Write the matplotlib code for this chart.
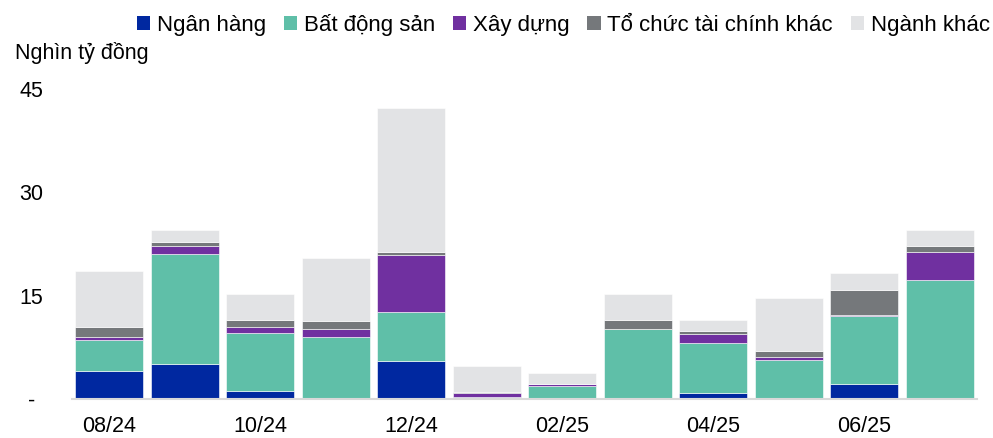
import matplotlib
matplotlib.use("Agg")
import matplotlib.pyplot as plt
from matplotlib.patches import Patch
import numpy as np

months = ["08/24", "09/24", "10/24", "11/24", "12/24", "01/25",
          "02/25", "03/25", "04/25", "05/25", "06/25", "07/25"]
ngan_hang = [4.0, 5.1, 1.1, 0.0, 5.45, 0.0, 0.0, 0.0, 0.9, 0.0, 2.25, 0.0]
bat_dong_san = [4.6, 16.0, 8.55, 9.05, 7.25, 0.25, 1.95, 10.2, 7.2, 5.7, 9.75, 17.3]
xay_dung = [0.45, 1.05, 0.8, 1.05, 8.15, 0.6, 0.25, 0.0, 1.3, 0.4, 0.15, 4.0]
tctc_khac = [1.45, 0.65, 1.05, 1.2, 0.55, 0.1, 0.0, 1.3, 0.45, 0.9, 3.7, 0.95]
nganh_khac = [8.1, 1.7, 3.8, 9.2, 20.9, 3.8, 1.6, 3.7, 1.55, 7.7, 2.4, 2.35]

series_names = ["Ngân hàng", "Bất động sản", "Xây dựng", "Tổ chức tài chính khác", "Ngành khác"]
colors = ["#0028a0", "#5fbfa8", "#7030a0", "#75787b", "#e2e3e5"]
yticks = [0, 15, 30, 45]
ytick_labels = ["-", "15", "30", "45"]

plt.rcParams['font.family'] = ['Liberation Sans', 'DejaVu Sans']

fig = plt.figure(figsize=(9.93, 4.38), dpi=100)
ax = fig.add_axes([72/993, 1-399/438, (977-72)/993, (399-89)/438])

x = np.arange(len(months))
bottom = np.zeros(len(months))
all_series = [ngan_hang, bat_dong_san, xay_dung, tctc_khac, nganh_khac]
for vals, c in zip(all_series, colors):
    vals = np.array(vals)
    ax.bar(x, vals, width=0.9, bottom=bottom, color=c, edgecolor="white",
           linewidth=0.4, zorder=2)
    bottom += vals

ax.set_xlim(-0.49, 11.49)
ax.set_ylim(0, 45)
for s in ["top", "right", "left"]:
    ax.spines[s].set_visible(False)
ax.spines["bottom"].set_color("#d9d9d9")
ax.spines["bottom"].set_linewidth(1.5)
ax.spines["bottom"].set_zorder(3)

ax.set_xticks(x[::2])
ax.set_xticklabels(months[::2], fontsize=15.5)
ax.tick_params(axis="x", length=0, pad=12)
ax.set_yticks(yticks)
ax.set_yticklabels(ytick_labels, fontsize=15.5)
ax.tick_params(axis="y", length=0, pad=29)
for lab in ax.get_yticklabels():
    lab.set_ha("center")

fig.text(15/993, 1-53/438, "Nghìn tỷ đồng", fontsize=15.5, va="center", ha="left")

handles = [Patch(facecolor=c, edgecolor="none") for c in colors]
fig.legend(handles, series_names, loc="center right",
           bbox_to_anchor=(990/993, 1-25/438), ncol=5, frameon=False,
           fontsize=16, handlelength=0.6, handleheight=0.6,
           handletextpad=0.3, columnspacing=0.8, borderaxespad=0, borderpad=0)

fig.savefig("out.png", dpi=100)
